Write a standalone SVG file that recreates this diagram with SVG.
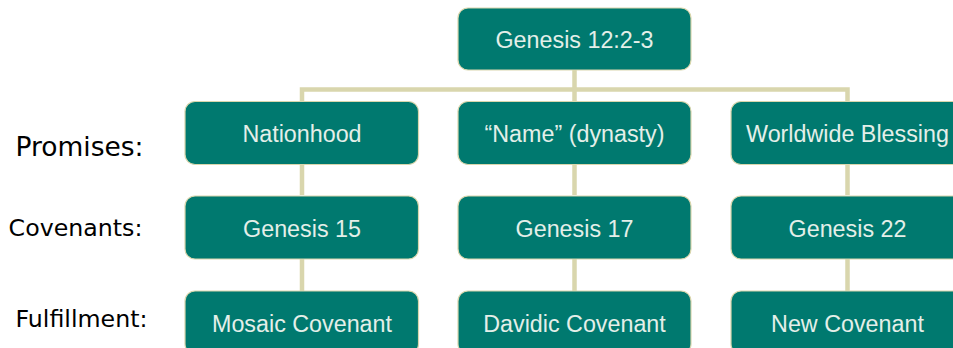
<svg xmlns="http://www.w3.org/2000/svg" width="953" height="348" viewBox="0 0 953 348">
<style>
.box{fill:#00796f;stroke:#d9d6ad;stroke-width:1.2}
.bt{font-family:"Liberation Sans",Arial,sans-serif;font-size:23.3px;fill:#e4efe9;text-anchor:middle}
.lbl{font-family:"DejaVu Sans",Verdana,sans-serif;fill:#000;text-anchor:middle}
.con{fill:none;stroke:#d9d6ad;stroke-width:4.5}
</style>
<rect width="953" height="348" fill="#fff"/>
<g id="connectors">
<path class="con" d="M574.5 70 V101 M302 101 V89.5 H847.5 V101"/>
<path class="con" d="M302 165 V195 M302 259 V291"/>
<path class="con" d="M574.5 165 V195 M574.5 259 V291"/>
<path class="con" d="M847.5 165 V195 M847.5 259 V291"/>
</g>
<g id="labels">
<text class="lbl" x="79.5" y="156" font-size="26.5">Promises:</text>
<text class="lbl" x="75.5" y="236" font-size="23.7">Covenants:</text>
<text class="lbl" x="81.5" y="327" font-size="23.7">Fulfillment:</text>
</g>
<g id="n-genesis12"><rect class="box" x="458" y="8" width="233" height="62" rx="10"/><text class="bt" x="574.5" y="47.5">Genesis 12:2-3</text></g>
<g id="n-nationhood"><rect class="box" x="185" y="101.5" width="233.5" height="63" rx="10"/><text class="bt" x="302" y="142">Nationhood</text></g>
<g id="n-name"><rect class="box" x="458" y="101.5" width="233" height="63" rx="10"/><text class="bt" x="574.5" y="142">“Name” (dynasty)</text></g>
<g id="n-worldwide"><rect class="box" x="731" y="101.5" width="233" height="63" rx="10"/><text class="bt" x="847.5" y="142">Worldwide Blessing</text></g>
<g id="n-gen15"><rect class="box" x="185" y="196" width="233.5" height="63" rx="10"/><text class="bt" x="302" y="236.5">Genesis 15</text></g>
<g id="n-gen17"><rect class="box" x="458" y="196" width="233" height="63" rx="10"/><text class="bt" x="574.5" y="236.5">Genesis 17</text></g>
<g id="n-gen22"><rect class="box" x="731" y="196" width="233" height="63" rx="10"/><text class="bt" x="847.5" y="236.5">Genesis 22</text></g>
<g id="n-mosaic"><rect class="box" x="185" y="291" width="233.5" height="63" rx="10"/><text class="bt" x="302" y="331.5">Mosaic Covenant</text></g>
<g id="n-davidic"><rect class="box" x="458" y="291" width="233" height="63" rx="10"/><text class="bt" x="574.5" y="331.5">Davidic Covenant</text></g>
<g id="n-new"><rect class="box" x="731" y="291" width="233" height="63" rx="10"/><text class="bt" x="847.5" y="331.5">New Covenant</text></g>
</svg>
